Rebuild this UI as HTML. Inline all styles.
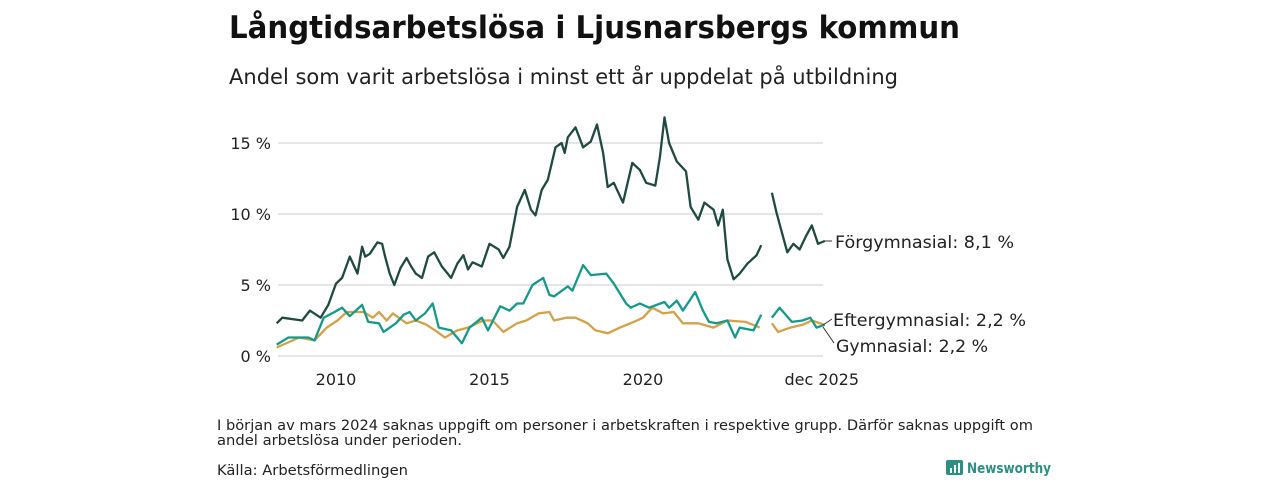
<!DOCTYPE html>
<html><head><meta charset="utf-8">
<style>
body{margin:0;width:1280px;height:480px;background:#fff;overflow:hidden;font-family:"DejaVu Sans","Liberation Sans",sans-serif;color:#111}
svg{position:absolute;left:0;top:0}
</style></head>
<body>
<svg id="chart" width="1280" height="480">
<text x="229" y="38" font-size="31" font-weight="bold" fill="#111" textLength="731" lengthAdjust="spacingAndGlyphs">Långtidsarbetslösa i Ljusnarsbergs kommun</text>
<text x="229" y="84" font-size="21" fill="#222" textLength="669" lengthAdjust="spacingAndGlyphs">Andel som varit arbetslösa i minst ett år uppdelat på utbildning</text>
<g id="grid"></g>
<g id="lines"></g>
<g id="labels" font-size="17" fill="#222">
<line x1="823" y1="241" x2="832" y2="241" stroke="#333" stroke-width="1"/>
<text x="835" y="248" textLength="179" lengthAdjust="spacingAndGlyphs">Förgymnasial: 8,1 %</text>
<line x1="823" y1="325" x2="832" y2="319" stroke="#333" stroke-width="1"/>
<text x="833" y="326" textLength="193" lengthAdjust="spacingAndGlyphs">Eftergymnasial: 2,2 %</text>
<line x1="823" y1="327" x2="834" y2="343" stroke="#333" stroke-width="1"/>
<text x="836" y="352" textLength="152" lengthAdjust="spacingAndGlyphs">Gymnasial: 2,2 %</text>
</g>
<text x="217" y="430" font-size="14.5" fill="#222" textLength="816" lengthAdjust="spacingAndGlyphs">I början av mars 2024 saknas uppgift om personer i arbetskraften i respektive grupp. Därför saknas uppgift om</text>
<text x="217" y="445" font-size="14.5" fill="#222" textLength="245" lengthAdjust="spacingAndGlyphs">andel arbetslösa under perioden.</text>
<text x="217" y="475" font-size="14.5" fill="#222" textLength="191" lengthAdjust="spacingAndGlyphs">Källa: Arbetsförmedlingen</text>
<g>
<rect x="946" y="460" width="17" height="15" rx="2" fill="#2b8f82"/>
<rect x="950" y="468" width="2" height="5" fill="#fff"/><rect x="954" y="465" width="2" height="8" fill="#fff"/><rect x="958" y="463" width="2" height="10" fill="#fff"/>
<text x="967" y="473" font-size="14.5" font-weight="bold" fill="#2b8f82" textLength="84" lengthAdjust="spacingAndGlyphs">Newsworthy</text>
</g>
</svg>
<script>
const yTicks=[0,5,10,15];
const yTickLabels=["0 %","5 %","10 %","15 %"];
const xTicks=[2010,2015,2020,2025.92];
const xTickLabels=["2010","2015","2020","dec 2025"];
const fYears=[2008.07,2008.25,2008.9,2009.15,2009.5,2009.75,2010,2010.2,2010.45,2010.7,2010.85,2010.95,2011.1,2011.35,2011.5,2011.6,2011.75,2011.9,2012.1,2012.3,2012.45,2012.6,2012.8,2013,2013.2,2013.45,2013.75,2013.95,2014.15,2014.3,2014.45,2014.75,2015,2015.3,2015.45,2015.65,2015.9,2016.15,2016.35,2016.5,2016.7,2016.9,2017.15,2017.35,2017.45,2017.55,2017.8,2018.05,2018.3,2018.5,2018.7,2018.85,2019.05,2019.35,2019.65,2019.9,2020.1,2020.4,2020.55,2020.7,2020.85,2021.1,2021.4,2021.55,2021.8,2022,2022.3,2022.45,2022.6,2022.75,2022.95,2023.15,2023.4,2023.7,2023.85,2024.0,2024.2,2024.35,2024.5,2024.7,2024.9,2025.1,2025.3,2025.5,2025.7,2025.92];
const fVals=[2.3,2.7,2.5,3.2,2.7,3.6,5.1,5.5,7.0,5.8,7.7,7.0,7.2,8.0,7.9,7.0,5.8,5.0,6.2,6.9,6.3,5.8,5.5,7.0,7.3,6.3,5.5,6.5,7.1,6.1,6.6,6.3,7.9,7.5,6.9,7.7,10.5,11.7,10.3,9.9,11.7,12.4,14.7,15.0,14.3,15.4,16.1,14.7,15.1,16.3,14.3,11.9,12.2,10.8,13.6,13.1,12.2,12.0,14.0,16.8,15.0,13.7,13.0,10.5,9.6,10.8,10.3,9.2,10.3,6.8,5.4,5.8,6.5,7.1,7.8,null,11.5,10.1,8.9,7.3,7.9,7.5,8.4,9.2,7.9,8.1];
const eYears=[2008.07,2008.45,2009.1,2009.3,2009.6,2009.95,2010.2,2010.45,2010.85,2011.05,2011.4,2011.55,2011.95,2012.2,2012.4,2012.6,2012.9,2013.15,2013.35,2013.75,2014.1,2014.35,2014.75,2014.95,2015.35,2015.65,2015.9,2016.1,2016.4,2016.75,2016.95,2017.1,2017.55,2017.7,2018.05,2018.3,2018.8,2019.05,2019.45,2019.6,2019.9,2020.2,2020.7,2020.85,2021.1,2021.3,2021.7,2021.95,2022.15,2022.4,2022.75,2023.0,2023.15,2023.6,2023.85,2024.0,2024.2,2024.45,2024.85,2025.2,2025.45,2025.65,2025.92];
const eVals=[0.8,1.3,1.3,1.1,2.7,3.1,3.4,2.8,3.6,2.4,2.3,1.7,2.3,2.9,3.1,2.5,3.0,3.7,2.0,1.8,0.9,2.0,2.7,1.8,3.5,3.2,3.7,3.7,5.0,5.5,4.3,4.2,4.9,4.6,6.4,5.7,5.8,5.1,3.7,3.4,3.7,3.4,3.8,3.4,3.9,3.2,4.5,3.2,2.4,2.3,2.5,1.3,2.0,1.8,2.9,null,2.7,3.4,2.4,2.5,2.7,2.0,2.2];
const gYears=[2008.07,2008.8,2009.3,2009.7,2010.05,2010.35,2010.9,2011.2,2011.4,2011.65,2011.85,2012.3,2012.6,2012.95,2013.3,2013.55,2013.95,2014.3,2014.8,2015.1,2015.45,2015.9,2016.2,2016.6,2016.95,2017.1,2017.5,2017.8,2018.2,2018.45,2018.85,2019.25,2019.7,2020.0,2020.3,2020.65,2021.0,2021.3,2021.8,2022.3,2022.75,2023.35,2023.8,2024.0,2024.2,2024.4,2024.8,2025.2,2025.5,2025.92];
const gVals=[0.6,1.3,1.1,2.0,2.5,3.1,3.1,2.7,3.1,2.5,3.0,2.3,2.5,2.2,1.7,1.3,1.8,2.0,2.5,2.5,1.7,2.3,2.5,3.0,3.1,2.5,2.7,2.7,2.3,1.8,1.6,2.0,2.4,2.7,3.4,3.0,3.1,2.3,2.3,2.0,2.5,2.4,2.0,null,2.3,1.7,2.0,2.2,2.5,2.2];
const X0=278,X1=823;
function xs(y){return 336+(y-2010)*30.7;}
function ys(v){return 356-v*14.2;}
const ns="http://www.w3.org/2000/svg";
const grid=document.getElementById('grid');
yTicks.forEach((t,i)=>{
  const l=document.createElementNS(ns,'line');
  l.setAttribute('x1',X0);l.setAttribute('x2',X1);l.setAttribute('y1',ys(t));l.setAttribute('y2',ys(t));
  l.setAttribute('stroke','#ddd');l.setAttribute('stroke-width','1.5');
  
  
  grid.appendChild(l);
  const tx=document.createElementNS(ns,'text');
  tx.setAttribute('x',271);tx.setAttribute('y',ys(t)+6);tx.setAttribute('text-anchor','end');
  tx.setAttribute('font-size','16');tx.setAttribute('fill','#222');
  tx.textContent=yTickLabels[i];
  
  
  grid.appendChild(tx);
});
xTicks.forEach((t,i)=>{
  const tx=document.createElementNS(ns,'text');
  tx.setAttribute('x',xs(t)-(i===3?3:0));tx.setAttribute('y',385);tx.setAttribute('text-anchor','middle');
  tx.setAttribute('font-size','16');tx.setAttribute('fill','#222');
  tx.textContent=xTickLabels[i];
  
  
  grid.appendChild(tx);
});
const lines=document.getElementById('lines');
function draw(years,vals,color,name){
  let d='',pen=false;
  years.forEach((yr,i)=>{
    const v=vals[i];
    if(v===null){pen=false;return;}
    d+=(pen?'L':'M')+xs(yr).toFixed(1)+' '+ys(v).toFixed(1)+' ';pen=true;
  });
  const p=document.createElementNS(ns,'path');
  p.setAttribute('d',d);p.setAttribute('fill','none');p.setAttribute('stroke',color);
  p.setAttribute('stroke-width','2.3');p.setAttribute('stroke-linejoin','round');
  
  
  lines.appendChild(p);
}
draw(gYears,gVals,'#d4a048','line-gymnasial');
draw(eYears,eVals,'#16998a','line-eftergymnasial');
draw(fYears,fVals,'#1f4a42','line-forgymnasial');
</script>
</body></html>
